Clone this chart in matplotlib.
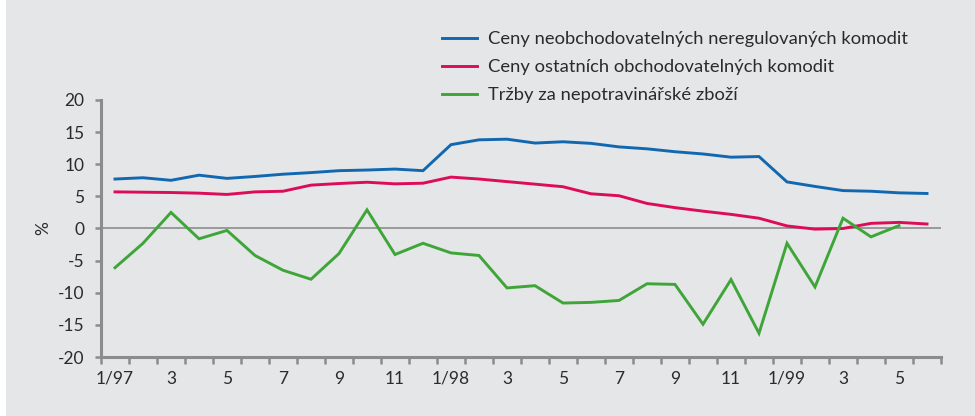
# Recreated chart: (meziroční změny v %)
import numpy as np
import matplotlib.pyplot as plt
from matplotlib.patches import Rectangle

plt.rcParams['font.family'] = ['Lato', 'DejaVu Sans']
plt.rcParams['axes.unicode_minus'] = False

# ==========================================================
# DATA (1/97 .. 6/99, monthly)
# ==========================================================

months = [
    "1/97", "2", "3", "4", "5", "6", "7", "8", "9", "10", "11", "12",
    "1/98", "2", "3", "4", "5", "6", "7", "8", "9", "10", "11", "12",
    "1/99", "2", "3", "4", "5", "6",
]

tick_labels = ["1/97", "3", "5", "7", "9", "11",
               "1/98", "3", "5", "7", "9", "11",
               "1/99", "3", "5"]

neobchodovatelne = [
    7.7, 7.9, 7.5, 8.3, 7.8, 8.1, 8.45, 8.7, 9.0, 9.1, 9.25, 9.0,
    13.05, 13.8, 13.9, 13.3, 13.5, 13.25, 12.7, 12.4, 11.95, 11.6, 11.1, 11.2,
    7.25, 6.55, 5.9, 5.8, 5.55, 5.45,
]

ostatni = [
    5.7, 5.65, 5.6, 5.5, 5.3, 5.7, 5.8, 6.75, 7.0, 7.2, 6.95, 7.05,
    8.0, 7.7, 7.3, 6.9, 6.5, 5.4, 5.1, 3.9, 3.25, 2.7, 2.2, 1.6,
    0.4, -0.1, 0.0, 0.8, 0.95, 0.7,
]

trzby = [
    -6.1, -2.3, 2.5, -1.6, -0.3, -4.2, -6.5, -7.9, -3.9, 2.9, -4.05, -2.3,
    -3.8, -4.2, -9.25, -8.9, -11.6, -11.5, -11.2, -8.6, -8.7, -14.9, -7.95, -16.3,
    -2.3, -9.1, 1.6, -1.3, 0.45, np.nan,
]

series_names = [
    "Ceny neobchodovatelných neregulovaných komodit",
    "Ceny ostatních obchodovatelných komodit",
    "Tržby za nepotravinářské zboží",
]

# ==========================================================
# STYLE
# ==========================================================

BG = "#e5e6e8"
AXIS_GREY = "#8c8c8c"
TEXT = "#2b2b2b"
colors = ["#1268b0", "#dc0c58", "#3ea638"]

# ==========================================================
# FIGURE
# ==========================================================

fig = plt.figure(figsize=(9.75, 4.16), dpi=100, facecolor="white")
fig.patches.append(Rectangle((6 / 975, 0), 1, 1, transform=fig.transFigure,
                             facecolor=BG, edgecolor="none", zorder=-10))

ax = fig.add_axes([101 / 975, 1 - 357 / 416, 840 / 975, 257 / 416])
ax.set_facecolor("none")

x = np.arange(len(months)) + 0.5

for values, name, color in zip([neobchodovatelne, ostatni, trzby],
                               series_names, colors):
    ax.plot(x, values, color=color, linewidth=2.1, label=name,
            solid_joinstyle="miter", zorder=3)

ax.axhline(0, color=AXIS_GREY, linewidth=1.2, zorder=2)

ax.set_xlim(0, len(months))
ax.set_ylim(-20, 20)

# y axis
ax.set_yticks(range(-20, 21, 5))
ax.tick_params(axis="y", direction="out", length=4, width=1.8,
               color=AXIS_GREY, pad=8, labelsize=12.5, labelcolor=TEXT)
ax.set_ylabel("%", fontsize=12.5, color=TEXT, labelpad=5)

# x axis: ticks at category boundaries, labels at every 2nd category centre
ax.set_xticks(np.arange(0, len(months) + 1))
ax.set_xticklabels([])
ax.set_xticks(np.arange(0, len(months), 2) + 0.5, minor=True)
ax.set_xticklabels(tick_labels, minor=True)
ax.tick_params(axis="x", which="major", direction="out", length=5,
               width=1.8, color=AXIS_GREY)
ax.tick_params(axis="x", which="minor", length=0, pad=10,
               labelsize=12.5, labelcolor=TEXT)

for side in ["top", "right"]:
    ax.spines[side].set_visible(False)
for side in ["left", "bottom"]:
    ax.spines[side].set_color(AXIS_GREY)
    ax.spines[side].set_linewidth(2.2)

ax.legend(loc="upper left", bbox_to_anchor=(442 / 975, 1 - 31 / 416),
          bbox_transform=fig.transFigure, frameon=False, fontsize=13.2,
          handlelength=1.9, handletextpad=0.6, labelspacing=0.66,
          borderpad=0, borderaxespad=0, labelcolor=TEXT)

fig.savefig("out.png", dpi=100, facecolor=fig.get_facecolor())
